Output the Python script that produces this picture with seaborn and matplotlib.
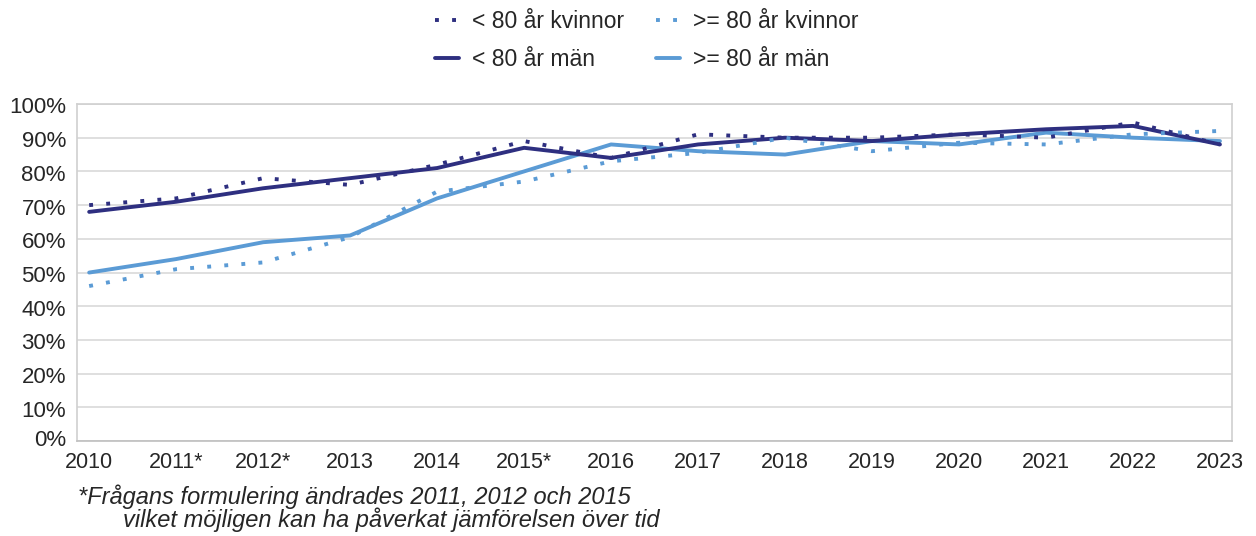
import matplotlib
matplotlib.use("Agg")
import matplotlib.pyplot as plt
import matplotlib.transforms as mtransforms
import seaborn as sns
import pandas as pd
import numpy as np
from matplotlib.lines import Line2D

years = ["2010", "2011*", "2012*", "2013", "2014", "2015*", "2016", "2017",
         "2018", "2019", "2020", "2021", "2022", "2023"]
u80_kvinnor = [70, 72, 78, 76, 82, 89, 84, 91, 90, 90, 91, 90, 94.5, 88]
o80_kvinnor = [46, 51, 53, 60.5, 74, 77, 83, 85.5, 90, 86, 88.5, 88, 91, 92]
u80_man = [68, 71, 75, 78, 81, 87, 84, 88, 90, 89, 91, 92.5, 93.5, 88]
o80_man = [50, 54, 59, 61, 72, 80, 88, 86, 85, 89, 88, 91.5, 90, 89]

series_names = ["< 80 år kvinnor", ">= 80 år kvinnor", "< 80 år män", ">= 80 år män"]
series_vals = [u80_kvinnor, o80_kvinnor, u80_man, o80_man]

dark = "#2E2F80"
light = "#5B9BD5"
colors = {series_names[0]: dark, series_names[1]: light,
          series_names[2]: dark, series_names[3]: light}
dotted = {series_names[0]: True, series_names[1]: True,
          series_names[2]: False, series_names[3]: False}

rows = []
for name, vals in zip(series_names, series_vals):
    for i, v in enumerate(vals):
        rows.append({"pos": i, "value": v, "serie": name})
df = pd.DataFrame(rows)

sns.set_theme(style="white")
plt.rcParams["font.family"] = ["Liberation Sans", "DejaVu Sans"]

fig = plt.figure(figsize=(12.56, 5.36), dpi=100)
ax = fig.add_axes([0.0613, 0.177, 0.9197, 0.629])

lw = 2.8
dash = (1, 3.4)
for name in [series_names[3], series_names[2], series_names[1], series_names[0]]:
    sub = df[df["serie"] == name]
    sns.lineplot(data=sub, x="pos", y="value", ax=ax, color=colors[name],
                 linewidth=lw, legend=False)
    line = ax.lines[-1]
    if dotted[name]:
        line.set_dashes(dash)
        line.set_dash_capstyle("butt")
    else:
        line.set_solid_capstyle("round")

ax.set_xlim(-0.14, 13.14)
ax.set_ylim(0, 100)
ax.set_yticks(np.arange(0, 101, 10))
ax.set_yticklabels([f"{v}%" for v in range(0, 101, 10)], fontsize=16)
ax.set_xticks(range(len(years)))
ax.set_xticklabels(years, fontsize=15.5)
ax.tick_params(axis="x", length=0, pad=7.5)
ax.tick_params(axis="y", length=0, pad=8)
ax.set_xlabel("")
ax.set_ylabel("")
ax.grid(axis="y", color="#D9D9D9", linewidth=1.2)
ax.set_axisbelow(True)
for s in ax.spines.values():
    s.set_color("#D0D0D0")
    s.set_linewidth(1.2)
ax.spines["bottom"].set_color("#BFBFBF")

# raise the "0%" label like the reference
first = ax.get_yticklabels()[0]
first.set_transform(first.get_transform() +
                    mtransforms.ScaledTranslation(0, 3.5 / 100, fig.dpi_scale_trans))
for lab in ax.get_yticklabels()[1:]:
    lab.set_transform(lab.get_transform() +
                      mtransforms.ScaledTranslation(0, -1.5 / 100, fig.dpi_scale_trans))

handles = []
order = [series_names[0], series_names[2], series_names[1], series_names[3]]
for name in order:
    h = Line2D([0], [0], color=colors[name], linewidth=lw)
    if dotted[name]:
        h.set_dashes(dash)
        h.set_dash_capstyle("butt")
    handles.append(h)
fig.legend(handles, order, ncol=2, loc="upper center", bbox_to_anchor=(0.515, 1.019),
           frameon=False, fontsize=16.5, handlelength=1.05, columnspacing=1.4,
           labelspacing=0.65, handletextpad=0.55)

fig.text(0.062, 0.073, "*Frågans formulering ändrades 2011, 2012 och 2015",
         fontsize=17, style="italic", va="center")
fig.text(0.098, 0.030, "vilket möjligen kan ha påverkat jämförelsen över tid",
         fontsize=17, style="italic", va="center")

fig.savefig("out.png", dpi=100)
